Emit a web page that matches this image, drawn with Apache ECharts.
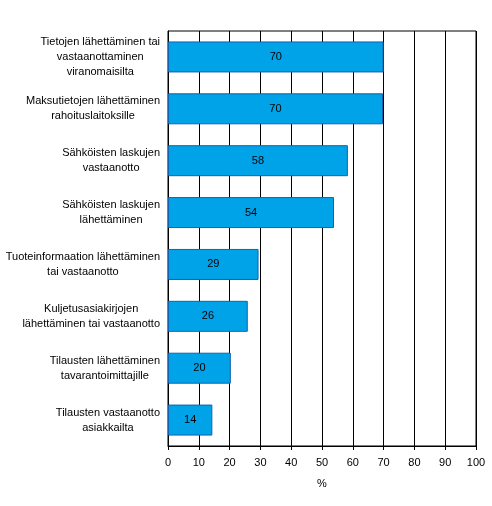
<!DOCTYPE html>
<html>
<head>
<meta charset="utf-8">
<script src="https://cdn.jsdelivr.net/npm/echarts@6/dist/echarts.min.js"></script>
<style>
  html, body { margin: 0; padding: 0; background: #fff; }
  #chart { width: 492px; height: 506px; }
</style>
</head>
<body>
<div id="chart"></div>
<script>
// luokat ylhäältä alas, arvot prosentteina
const categories = [
  "Tietojen lähettäminen tai\nvastaanottaminen\nviranomaisilta",
  "Maksutietojen lähettäminen\nrahoituslaitoksille",
  "Sähköisten laskujen\nvastaanotto",
  "Sähköisten laskujen\nlähettäminen",
  "Tuoteinformaation lähettäminen\ntai vastaanotto",
  "Kuljetusasiakirjojen\nlähettäminen tai vastaanotto",
  "Tilausten lähettäminen\ntavarantoimittajille",
  "Tilausten vastaanotto\nasiakkailta"
];
const values = [70, 69.8, 58.4, 53.9, 29.4, 25.9, 20.4, 14.4];
const xTicks = [0, 10, 20, 30, 40, 50, 60, 70, 80, 90, 100];

const font = "Arial, 'Liberation Sans', sans-serif";
const chart = echarts.init(document.getElementById("chart"));

chart.setOption({
  animation: false,
  grid: { left: 168, right: 16, top: 31, bottom: 60, show: true, borderColor: "#000", borderWidth: 1 },
  xAxis: {
    type: "value", min: xTicks[0], max: xTicks[xTicks.length - 1], interval: 10,
    name: "%", nameLocation: "middle", nameGap: 32,
    nameTextStyle: { color: "#000", fontSize: 11, fontFamily: font },
    axisLine: { show: true, lineStyle: { color: "#000" } },
    axisTick: { show: true, length: 4, lineStyle: { color: "#000" } },
    axisLabel: { color: "#000", fontSize: 11, fontFamily: font, margin: 11 },
    splitLine: { show: true, lineStyle: { color: "#000", width: 1 } }
  },
  yAxis: {
    type: "category", inverse: true, data: categories,
    axisLine: { show: true, lineStyle: { color: "#000" } },
    axisTick: { show: false },
    axisLabel: {
      margin: 8, align: "right",
      formatter: v => v.split("\n").map(s => "{a|" + s + "}").join("\n"),
      rich: { a: { align: "center", color: "#000", fontSize: 11, fontFamily: font, lineHeight: 15 } }
    }
  },
  series: [{
    type: "bar", data: values, barWidth: 31,
    itemStyle: { color: "#00a3e8", borderColor: "#1461ad", borderWidth: 1 },
    label: {
      show: true, position: "inside", color: "#000", fontSize: 11, fontFamily: font,
      formatter: p => Math.round(p.value)
    }
  }]
});
</script>
</body>
</html>
